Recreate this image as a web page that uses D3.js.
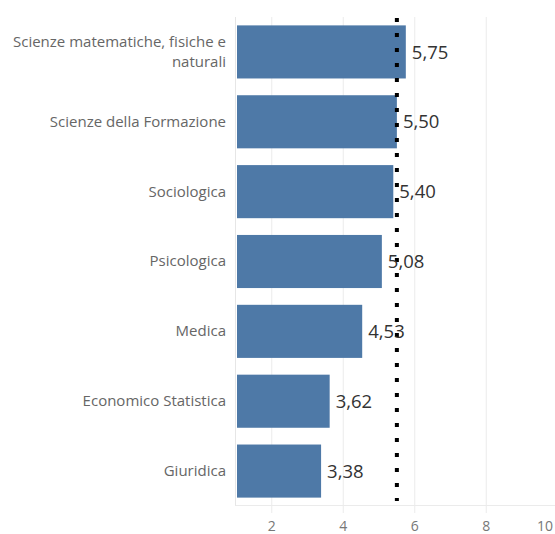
<!DOCTYPE html>
<html><head><meta charset="utf-8">
<script src="https://cdn.jsdelivr.net/npm/d3@7"></script>
<style>body{margin:0;background:#fff;}svg{display:block;}</style>
</head><body>
<svg id="chart" width="555" height="534"></svg>
<script>
const categories = [
  ["Scienze matematiche, fisiche e", "naturali"],
  ["Scienze della Formazione"],
  ["Sociologica"],
  ["Psicologica"],
  ["Medica"],
  ["Economico Statistica"],
  ["Giuridica"]
];
const values = [5.75, 5.50, 5.40, 5.08, 4.53, 3.62, 3.38];
const tickValues = [2, 4, 6, 8, 10];
const referenceValue = 5.5;

(function () {
const svg = d3.select("#chart");
const pLeft = 236, pRight = 557.75, pTop = 17, pBottom = 506;
const x = d3.scaleLinear().domain([1, 10]).range([pLeft, pRight]);
const y = d3.scaleBand().domain(d3.range(values.length)).range([pTop, pBottom]).paddingInner(0.24).paddingOuter(0.12);
const fmt = v => d3.format(".2f")(v).replace(".", ",");
const font = "'Open Sans', Lato, sans-serif";

// gridlines
svg.append("g").selectAll("line").data(tickValues).join("line")
  .attr("x1", d => x(d)).attr("x2", d => x(d))
  .attr("y1", pTop).attr("y2", 513)
  .attr("stroke", "#ebebeb").attr("stroke-width", 1);
// left axis line and baseline
svg.append("line").attr("x1", pLeft - 0.5).attr("x2", pLeft - 0.5).attr("y1", pTop).attr("y2", pBottom)
  .attr("stroke", "#e6e6e6");
svg.append("line").attr("x1", pLeft - 0.5).attr("x2", 555).attr("y1", pBottom - 0.5).attr("y2", pBottom - 0.5)
  .attr("stroke", "#ebebeb");

// bars
svg.append("g").selectAll("rect").data(values).join("rect")
  .attr("x", x(1) + 1).attr("y", (d, i) => y(i))
  .attr("width", d => x(d) - x(1) - 1).attr("height", y.bandwidth())
  .attr("fill", "#4e79a7");

// category labels
const cat = svg.append("g").selectAll("text").data(categories).join("text")
  .attr("text-anchor", "end")
  .attr("font-family", font).attr("font-size", 15)
  .attr("fill", "#666");
cat.each(function(lines, i) {
  const t = d3.select(this);
  const cy = y(i) + y.bandwidth() / 2;
  const lh = 20;
  lines.forEach((ln, j) => {
    t.append("tspan").attr("x", 226)
      .attr("y", cy + (j - (lines.length - 1) / 2) * lh)
      .attr("dy", "0.33em").text(ln);
  });
});

// reference dotted line
svg.append("line").attr("x1", x(referenceValue)).attr("x2", x(referenceValue))
  .attr("y1", 18).attr("y2", 501)
  .attr("stroke", "#000").attr("stroke-width", 4).attr("stroke-dasharray", "4,11");

// value labels
svg.append("g").selectAll("text").data(values).join("text")
  .attr("x", d => x(d) + 6).attr("y", (d, i) => y(i) + y.bandwidth() / 2)
  .attr("dy", "0.36em")
  .attr("font-family", font).attr("font-size", 18.5)
  .attr("fill", "#333").text(d => fmt(d));

// tick labels
svg.append("g").selectAll("text").data(tickValues).join("text")
  .attr("x", d => Math.min(x(d), 545)).attr("y", 531)
  .attr("text-anchor", "middle")
  .attr("font-family", font).attr("font-size", 14)
  .attr("fill", "#777").text(d => d);
})();
</script>
</body></html>
